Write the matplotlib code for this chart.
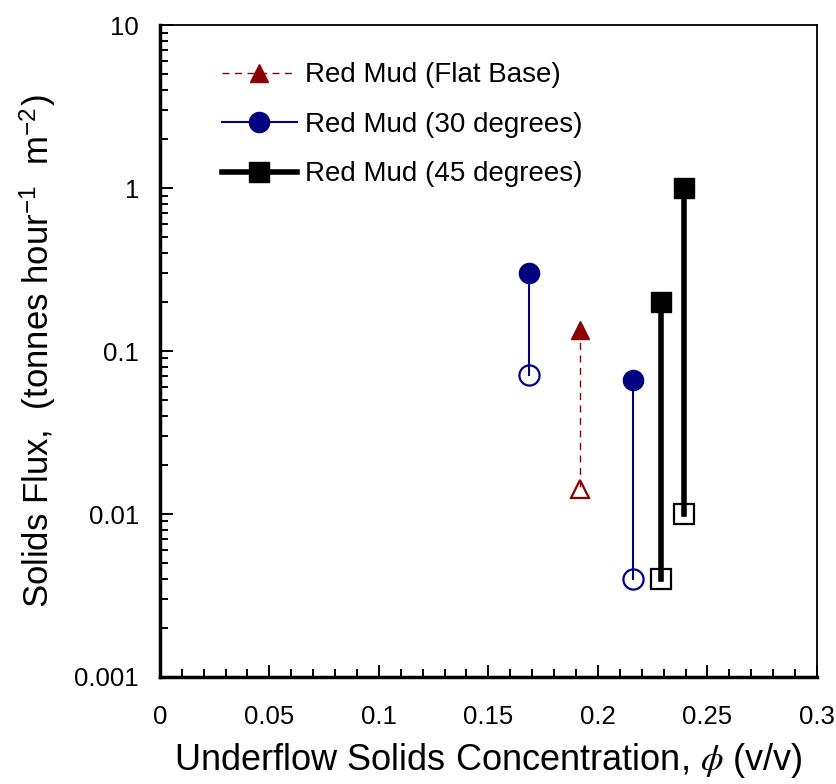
import numpy as np
import matplotlib
matplotlib.use("Agg")
import matplotlib.pyplot as plt
from matplotlib.lines import Line2D
from matplotlib.ticker import LogLocator, MultipleLocator, FixedLocator, FixedFormatter, NullFormatter

plt.rcParams['font.family'] = ['Liberation Sans', 'DejaVu Sans']
plt.rcParams['mathtext.fontset'] = 'custom'
plt.rcParams['mathtext.rm'] = 'Liberation Sans'
plt.rcParams['mathtext.it'] = 'STIXGeneral:italic'

# data: each pair is (x, filled value at top, open value at bottom)
flat_x = [0.192]
flat_hi = [0.135]
flat_lo = [0.0142]

deg30_x = [0.1685, 0.216]
deg30_hi = [0.30, 0.066]
deg30_lo = [0.071, 0.0040]

deg45_x = [0.229, 0.2395]
deg45_hi = [0.20, 1.0]
deg45_lo = [0.0040, 0.010]

x_ticks = [0, 0.05, 0.1, 0.15, 0.2, 0.25, 0.3]
x_labels = ["0", "0.05", "0.1", "0.15", "0.2", "0.25", "0.3"]
y_ticks = [0.001, 0.01, 0.1, 1, 10]
y_labels = ["0.001", "0.01", "0.1", "1", "10"]

series = [
    ("Red Mud (Flat Base)", flat_x, flat_hi, flat_lo, "#8b0000", "^", "--", 1.0),
    ("Red Mud (30 degrees)", deg30_x, deg30_hi, deg30_lo, "#000080", "o", "-", 1.5),
    ("Red Mud (45 degrees)", deg45_x, deg45_hi, deg45_lo, "black", "s", "-", 4.0),
]

fig = plt.figure(figsize=(8.37, 7.84), dpi=100)
ax = fig.add_axes([0.191, 0.1365, 0.785, 0.8315])

handles = []
for label, xs, hi, lo, col, mk, ls, lw in series:
    ms = 14.5 if mk != "^" else 13.5
    dash = (5, 4) if ls == "--" else (None, None)
    for x, h, l in zip(xs, hi, lo):
        ax.plot([x, x], [h, l], color=col, ls=ls, lw=lw, zorder=2, dashes=dash)
        ax.plot([x], [l], marker=mk, ms=ms, mfc="none", mec=col, mew=1.6,
                ls="none", zorder=3)
        ax.plot([x], [h], marker=mk, ms=ms, mfc=col, mec=col, ls="none", zorder=3)
    handles.append(Line2D([0], [0], color=col, ls=ls, lw=lw, marker=mk, ms=ms,
                          mfc=col, mec=col, dashes=dash))

ax.set_yscale("log")
ax.set_xlim(0, 0.3)
ax.set_ylim(0.001, 10)

ax.xaxis.set_major_locator(FixedLocator(x_ticks))
ax.xaxis.set_major_formatter(FixedFormatter(x_labels))
ax.xaxis.set_minor_locator(MultipleLocator(0.01))
ax.yaxis.set_major_locator(FixedLocator(y_ticks))
ax.yaxis.set_major_formatter(FixedFormatter(y_labels))
ax.yaxis.set_minor_locator(LogLocator(base=10, subs=np.arange(2, 10)))
ax.yaxis.set_minor_formatter(NullFormatter())

ax.tick_params(which="both", direction="in", labelsize=18.5, width=1.4)
ax.tick_params(which="major", length=9)
ax.tick_params(which="minor", length=6)
ax.tick_params(axis="y", which="major", pad=15)
ax.tick_params(axis="x", which="major", pad=20)
ax.tick_params(top=False, right=False)

ax.spines["left"].set_linewidth(2.5)
ax.spines["bottom"].set_linewidth(2.5)
ax.spines["top"].set_linewidth(1.3)
ax.spines["right"].set_linewidth(1.3)

ax.set_xlabel(r"Underflow Solids Concentration, $\phi$ (v/v)", fontsize=26, labelpad=9)
ax.set_ylabel(r"Solids Flux,  (tonnes hour$^{-1}$  m$^{-2}$)", fontsize=25, labelpad=12)

ax.legend(handles, [s[0] for s in series], loc="upper left", bbox_to_anchor=(0.094, 0.943),
          frameon=False, fontsize=20, handlelength=2.7, handletextpad=0.3,
          labelspacing=0.85, borderaxespad=0, borderpad=0)

fig.savefig("out.png", dpi=100)
